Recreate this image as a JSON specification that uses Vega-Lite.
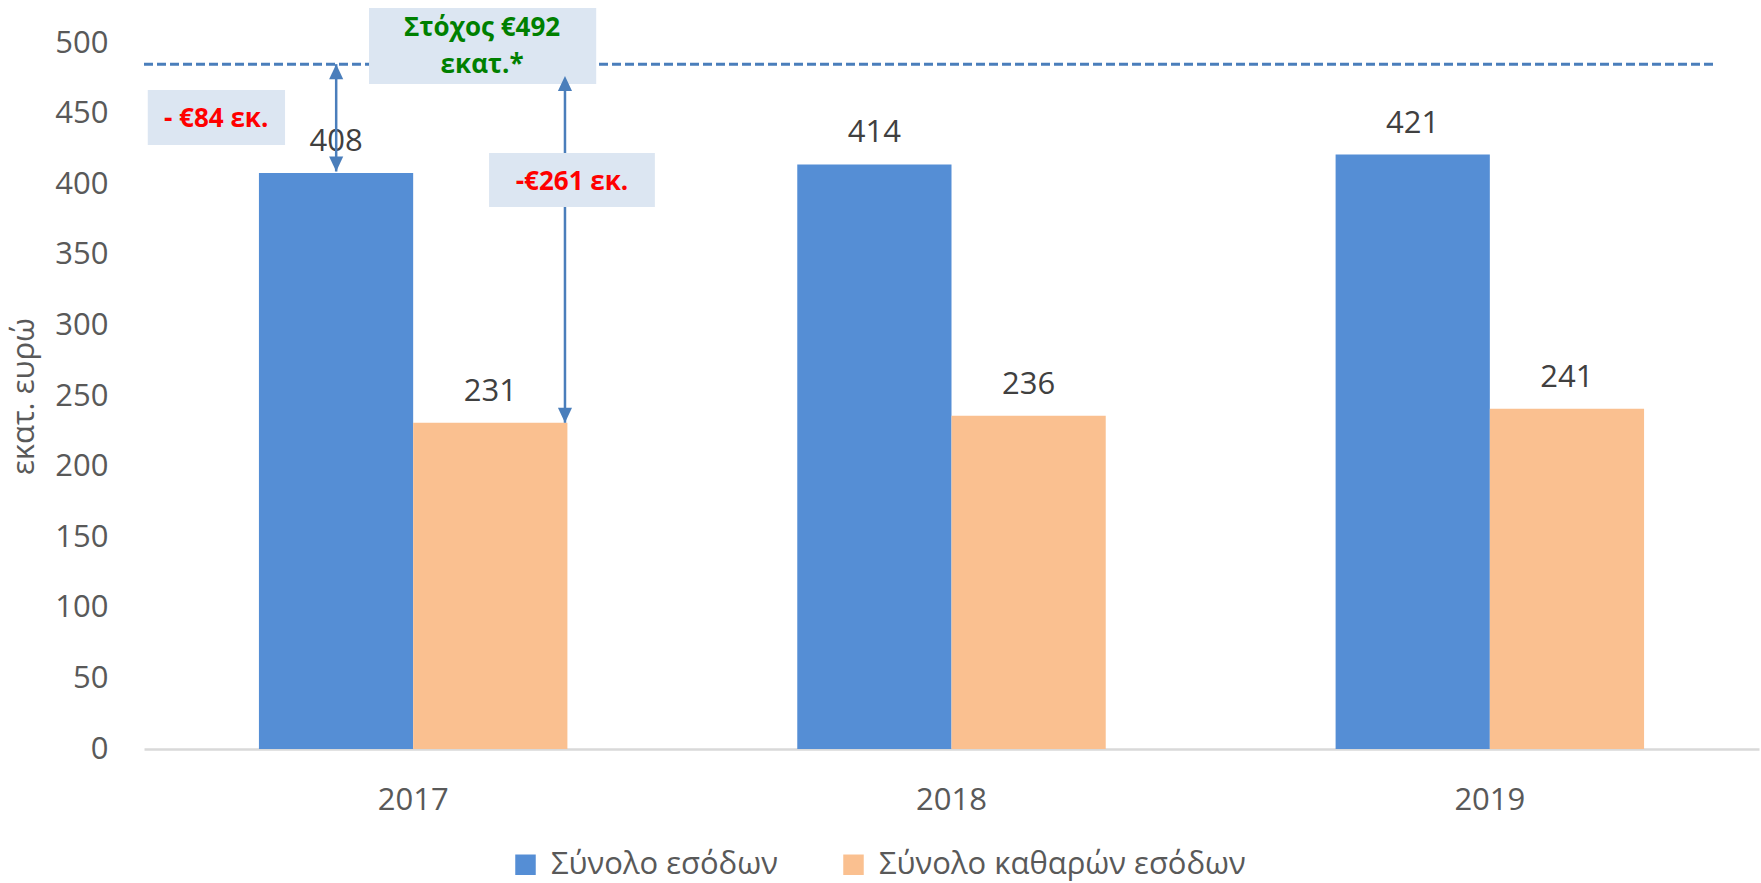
{
  "$schema": "https://vega.github.io/schema/vega-lite/v6.json",
  "width": 1615,
  "height": 706,
  "autosize": {"type": "none"},
  "padding": {"left": 144, "top": 43, "right": 2, "bottom": 134},
  "background": "white",
  "config": {"font": "Open Sans", "view": {"stroke": null}},
  "datasets": {
    "bars": [
      {"year": "2017", "series": "Σύνολο εσόδων", "value": 408},
      {"year": "2017", "series": "Σύνολο καθαρών εσόδων", "value": 231},
      {"year": "2018", "series": "Σύνολο εσόδων", "value": 414},
      {"year": "2018", "series": "Σύνολο καθαρών εσόδων", "value": 236},
      {"year": "2019", "series": "Σύνολο εσόδων", "value": 421},
      {"year": "2019", "series": "Σύνολο καθαρών εσόδων", "value": 241}
    ],
    "target": [{"pos": 0, "pos2": 2.915, "value": 485}],
    "arrows": [
      {"pos": 0.357, "top": 485, "bottom": 409},
      {"pos": 0.782, "top": 476.6, "bottom": 231}
    ],
    "headsUp": [
      {"pos": 0.357, "value": 485},
      {"pos": 0.782, "value": 476.6}
    ],
    "headsDown": [
      {"pos": 0.357, "value": 409},
      {"pos": 0.782, "value": 231}
    ],
    "boxes": [
      {"x1": 0.418, "x2": 0.840, "y1": 524.8, "y2": 471},
      {"x1": 0.007, "x2": 0.262, "y1": 466.7, "y2": 427.8},
      {"x1": 0.641, "x2": 0.949, "y1": 422.1, "y2": 383.9}
    ],
    "notes": [
      {"pos": 0.628, "value": 510.6, "label": "Στόχος €492", "kind": "target"},
      {"pos": 0.628, "value": 484.4, "label": "εκατ.*", "kind": "target"},
      {"pos": 0.134, "value": 446.2, "label": "- €84 εκ.", "kind": "gap"},
      {"pos": 0.795, "value": 401.6, "label": "-€261 εκ.", "kind": "gap"}
    ]
  },
  "layer": [
    {
      "data": {"name": "bars"},
      "mark": {"type": "bar"},
      "encoding": {
        "x": {
          "field": "year", "type": "nominal",
          "scale": {"paddingInner": 0.427, "paddingOuter": 0.2135},
          "axis": {"title": null, "labelAngle": 0, "labelFontSize": 31, "labelColor": "#595959", "ticks": false, "domainColor": "#d9d9d9", "domainWidth": 2.5, "labelPadding": 36}
        },
        "xOffset": {"field": "series", "type": "nominal", "scale": {"domain": ["Σύνολο εσόδων", "Σύνολο καθαρών εσόδων"], "paddingInner": 0, "paddingOuter": 0}},
        "y": {
          "field": "value", "type": "quantitative",
          "scale": {"domain": [0, 500], "nice": false},
          "axis": {"values": [0, 50, 100, 150, 200, 250, 300, 350, 400, 450, 500], "grid": false, "domain": false, "ticks": false, "labelFontSize": 31, "labelColor": "#595959", "labelPadding": 36, "title": "εκατ. ευρώ", "titleFontSize": 31, "titleFontWeight": "normal", "titleColor": "#595959", "titlePadding": 14}
        },
        "color": {
          "field": "series", "type": "nominal",
          "scale": {"domain": ["Σύνολο εσόδων", "Σύνολο καθαρών εσόδων"], "range": ["#558ED5", "#FAC090"]},
          "legend": {"orient": "none", "legendX": 366, "legendY": 806, "direction": "horizontal", "title": null, "symbolType": "square", "symbolSize": 420, "symbolStrokeWidth": 0, "labelFontSize": 31, "labelColor": "#595959", "labelOffset": 10, "labelLimit": 0, "columnPadding": 60}
        }
      }
    },
    {
      "data": {"name": "bars"},
      "mark": {"type": "text", "fontSize": 31, "color": "#404040", "baseline": "alphabetic", "dy": -22},
      "encoding": {
        "x": {"field": "year", "type": "nominal", "scale": {"paddingInner": 0.427, "paddingOuter": 0.2135}, "axis": null},
        "xOffset": {"field": "series", "type": "nominal", "scale": {"domain": ["Σύνολο εσόδων", "Σύνολο καθαρών εσόδων"], "paddingInner": 0, "paddingOuter": 0}},
        "y": {"field": "value", "type": "quantitative", "scale": {"domain": [0, 500], "nice": false}},
        "text": {"field": "value", "type": "quantitative"}
      }
    },
    {
      "data": {"name": "target"},
      "mark": {"type": "rule", "color": "#4A7EBB", "strokeWidth": 3, "strokeDash": [9, 4]},
      "encoding": {
        "x": {"field": "pos", "type": "quantitative", "scale": {"domain": [0, 3], "nice": false, "zero": false}, "axis": null},
        "x2": {"field": "pos2"},
        "y": {"field": "value", "type": "quantitative", "scale": {"domain": [0, 500], "nice": false}}
      }
    },
    {
      "data": {"name": "arrows"},
      "mark": {"type": "rule", "color": "#4A7EBB", "strokeWidth": 2.5},
      "encoding": {
        "x": {"field": "pos", "type": "quantitative", "scale": {"domain": [0, 3], "nice": false, "zero": false}, "axis": null},
        "y": {"field": "top", "type": "quantitative", "scale": {"domain": [0, 500], "nice": false}},
        "y2": {"field": "bottom"}
      }
    },
    {
      "data": {"name": "boxes"},
      "mark": {"type": "rect", "color": "#DCE6F2"},
      "encoding": {
        "x": {"field": "x1", "type": "quantitative", "scale": {"domain": [0, 3], "nice": false, "zero": false}, "axis": null},
        "x2": {"field": "x2"},
        "y": {"field": "y1", "type": "quantitative", "scale": {"domain": [0, 500], "nice": false}},
        "y2": {"field": "y2"}
      }
    },
    {
      "data": {"name": "headsUp"},
      "mark": {"type": "point", "shape": "M0,0L-0.47,1L0.47,1Z", "size": 900, "filled": true, "color": "#4A7EBB", "opacity": 1},
      "encoding": {
        "x": {"field": "pos", "type": "quantitative", "scale": {"domain": [0, 3], "nice": false, "zero": false}, "axis": null},
        "y": {"field": "value", "type": "quantitative", "scale": {"domain": [0, 500], "nice": false}}
      }
    },
    {
      "data": {"name": "headsDown"},
      "mark": {"type": "point", "shape": "M0,0L-0.47,-1L0.47,-1Z", "size": 900, "filled": true, "color": "#4A7EBB", "opacity": 1},
      "encoding": {
        "x": {"field": "pos", "type": "quantitative", "scale": {"domain": [0, 3], "nice": false, "zero": false}, "axis": null},
        "y": {"field": "value", "type": "quantitative", "scale": {"domain": [0, 500], "nice": false}}
      }
    },
    {
      "data": {"name": "notes"},
      "mark": {"type": "text", "fontSize": 26, "fontWeight": "bold", "baseline": "middle", "align": "center"},
      "encoding": {
        "x": {"field": "pos", "type": "quantitative", "scale": {"domain": [0, 3], "nice": false, "zero": false}, "axis": null},
        "y": {"field": "value", "type": "quantitative", "scale": {"domain": [0, 500], "nice": false}},
        "text": {"field": "label", "type": "nominal"},
        "color": {"field": "kind", "type": "nominal", "scale": {"domain": ["target", "gap"], "range": ["#008000", "#FF0000"]}, "legend": null}
      }
    }
  ],
  "resolve": {"scale": {"x": "independent", "color": "independent"}}
}
